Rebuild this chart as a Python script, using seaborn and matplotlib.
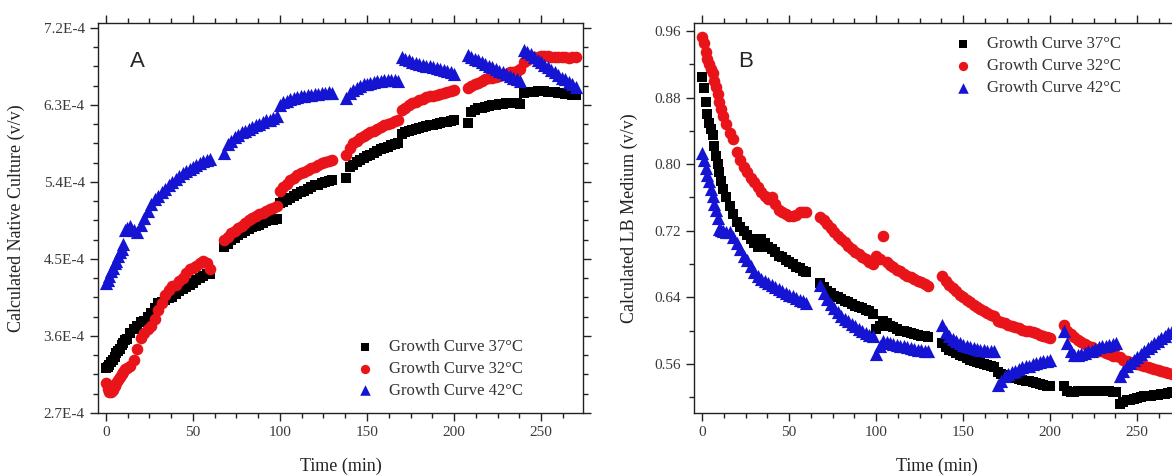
import pandas as pd
import seaborn as sns
import matplotlib.pyplot as plt
from matplotlib.ticker import AutoMinorLocator, MultipleLocator, FuncFormatter

# sampling times (min), measured in blocks with short breaks
time_min = (list(range(0, 13)) + list(range(14, 61, 2)) + list(range(68, 99, 2))
            + list(range(100, 131, 2)) + list(range(138, 169, 2)) + list(range(170, 201, 2))
            + list(range(208, 239, 2)) + list(range(240, 271, 2)))

# panel A: calculated native culture, in units of 1E-4 (v/v)
native_37 = [3.22, 3.24, 3.26, 3.29, 3.32, 3.36, 3.40, 3.43, 3.45, 3.49, 3.52, 3.55, 3.57,
             3.63, 3.68, 3.72, 3.76, 3.78, 3.82, 3.87, 3.93, 3.98,
             4.00, 4.02, 4.04, 4.06, 4.09, 4.12, 4.15, 4.17, 4.20, 4.22, 4.25, 4.28, 4.30, 4.32, 4.33,
             4.64, 4.68, 4.72, 4.75, 4.78, 4.80, 4.83, 4.85, 4.87, 4.89, 4.90, 4.92, 4.94, 4.95, 4.96, 4.97,
             5.15, 5.17, 5.19, 5.21, 5.24, 5.26, 5.28, 5.30, 5.32, 5.34, 5.36, 5.37, 5.39, 5.40, 5.41, 5.42,
             5.45, 5.57, 5.60, 5.63, 5.66, 5.68, 5.70, 5.72, 5.74, 5.76, 5.78, 5.80, 5.81, 5.83, 5.84, 5.85,
             5.96, 5.98, 6.00, 6.01, 6.02, 6.03, 6.04, 6.05, 6.06, 6.07, 6.08, 6.09, 6.10, 6.10, 6.11, 6.12,
             6.09, 6.22, 6.24, 6.26, 6.27, 6.28, 6.29, 6.30, 6.30, 6.31, 6.31, 6.32, 6.32, 6.32, 6.32, 6.31,
             6.44, 6.45, 6.45, 6.45, 6.46, 6.46, 6.46, 6.45, 6.45, 6.45, 6.44, 6.44, 6.43, 6.43, 6.42, 6.42]
native_32 = [3.05, 2.98, 2.95, 2.94, 2.97, 3.01, 3.05, 3.09, 3.12, 3.16, 3.18, 3.21, 3.22,
             3.25, 3.32, 3.45, 3.58, 3.64, 3.68, 3.72, 3.80, 3.90,
             3.98, 4.08, 4.14, 4.18, 4.20, 4.24, 4.28, 4.34, 4.38, 4.40, 4.42, 4.45, 4.48, 4.45, 4.38,
             4.72, 4.76, 4.80, 4.83, 4.86, 4.89, 4.92, 4.95, 4.98, 5.00, 5.02, 5.04, 5.06, 5.08, 5.10, 5.12,
             5.30, 5.34, 5.38, 5.42, 5.45, 5.48, 5.50, 5.52, 5.54, 5.56, 5.58, 5.60, 5.62, 5.63, 5.65, 5.66,
             5.72, 5.80, 5.85, 5.88, 5.91, 5.94, 5.96, 5.98, 6.00, 6.02, 6.04, 6.06, 6.08, 6.09, 6.11, 6.12,
             6.24, 6.27, 6.30, 6.32, 6.34, 6.36, 6.37, 6.39, 6.40, 6.41, 6.42, 6.43, 6.44, 6.45, 6.46, 6.48,
             6.50, 6.52, 6.54, 6.56, 6.58, 6.60, 6.61, 6.62, 6.63, 6.64, 6.65, 6.66, 6.68, 6.69, 6.70, 6.72,
             6.80, 6.83, 6.85, 6.86, 6.86, 6.87, 6.87, 6.87, 6.86, 6.86, 6.86, 6.86, 6.86, 6.85, 6.86, 6.86]
native_42 = [4.22, 4.25, 4.30, 4.36, 4.40, 4.45, 4.48, 4.54, 4.58, 4.62, 4.68, 4.84, 4.86,
             4.88, 4.84, 4.82, 4.90, 4.98, 5.06, 5.14, 5.20, 5.24,
             5.28, 5.32, 5.36, 5.40, 5.44, 5.47, 5.50, 5.53, 5.55, 5.58, 5.60, 5.62, 5.64, 5.66, 5.67,
             5.74, 5.84, 5.88, 5.92, 5.95, 5.98, 6.00, 6.02, 6.04, 6.06, 6.08, 6.10, 6.12, 6.13, 6.15, 6.17,
             6.30, 6.33, 6.35, 6.37, 6.38, 6.39, 6.40, 6.41, 6.42, 6.42, 6.43, 6.43, 6.44, 6.44, 6.45, 6.44,
             6.38, 6.44, 6.47, 6.50, 6.52, 6.54, 6.55, 6.56, 6.57, 6.58, 6.58, 6.59, 6.59, 6.59, 6.59, 6.58,
             6.86, 6.84, 6.82, 6.80, 6.79, 6.78, 6.77, 6.76, 6.75, 6.74, 6.73, 6.72, 6.71, 6.70, 6.68, 6.66,
             6.88, 6.86, 6.84, 6.82, 6.80, 6.78, 6.76, 6.74, 6.72, 6.70, 6.68, 6.66, 6.64, 6.62, 6.60, 6.58,
             6.94, 6.92, 6.89, 6.86, 6.83, 6.80, 6.77, 6.74, 6.71, 6.68, 6.65, 6.62, 6.60, 6.57, 6.54, 6.51]

# panel B: calculated LB medium (v/v)
lb_37 = [0.905, 0.892, 0.875, 0.860, 0.850, 0.842, 0.835, 0.822, 0.810, 0.800, 0.790, 0.780, 0.770,
         0.760, 0.750, 0.740, 0.730, 0.725, 0.720, 0.715, 0.710, 0.705, 0.700, 0.710, 0.705, 0.700,
         0.698, 0.695, 0.690, 0.688, 0.685, 0.683, 0.680, 0.677, 0.675, 0.672, 0.670,
         0.657, 0.652, 0.648, 0.645, 0.642, 0.640, 0.638, 0.636, 0.634, 0.632, 0.630, 0.628, 0.627, 0.625, 0.623, 0.620,
         0.602, 0.606, 0.611, 0.609, 0.606, 0.604, 0.602, 0.600, 0.599, 0.598, 0.597, 0.596, 0.595, 0.594, 0.593, 0.592,
         0.585, 0.580, 0.577, 0.575, 0.573, 0.571, 0.569, 0.567, 0.565, 0.564, 0.562, 0.561, 0.560, 0.559, 0.558, 0.556,
         0.550, 0.548, 0.547, 0.546, 0.545, 0.543, 0.542, 0.541, 0.540, 0.539, 0.538, 0.537, 0.536, 0.535, 0.534, 0.533,
         0.534, 0.528, 0.526, 0.526, 0.527, 0.527, 0.527, 0.527, 0.527, 0.527, 0.527, 0.527, 0.527, 0.527, 0.526, 0.526,
         0.512, 0.514, 0.516, 0.517, 0.518, 0.519, 0.520, 0.521, 0.521, 0.522, 0.523, 0.523, 0.524, 0.524, 0.525, 0.526]
lb_32 = [0.953, 0.945, 0.935, 0.926, 0.920, 0.914, 0.910, 0.900, 0.893, 0.884, 0.875, 0.866, 0.858,
         0.848, 0.838, 0.830, 0.815, 0.805, 0.797, 0.790, 0.783, 0.778, 0.772, 0.767, 0.762, 0.758,
         0.760, 0.752, 0.745, 0.742, 0.740, 0.738, 0.738, 0.739, 0.742, 0.743, 0.742,
         0.737, 0.733, 0.728, 0.723, 0.718, 0.714, 0.710, 0.706, 0.702, 0.698, 0.695, 0.692, 0.689, 0.686, 0.683, 0.680,
         0.690, 0.686, 0.714, 0.682, 0.679, 0.676, 0.673, 0.671, 0.668, 0.666, 0.664, 0.662, 0.660, 0.658, 0.656, 0.654,
         0.666, 0.660, 0.655, 0.651, 0.647, 0.643, 0.640, 0.637, 0.634, 0.631, 0.628, 0.626, 0.623, 0.621, 0.619, 0.617,
         0.612, 0.610, 0.609, 0.607, 0.606, 0.604, 0.603, 0.601, 0.600, 0.599, 0.598, 0.597, 0.595, 0.594, 0.592, 0.591,
         0.607, 0.600, 0.596, 0.592, 0.589, 0.586, 0.584, 0.582, 0.580, 0.578, 0.576, 0.575, 0.573, 0.572, 0.570, 0.569,
         0.568, 0.565, 0.563, 0.562, 0.561, 0.560, 0.559, 0.558, 0.556, 0.555, 0.554, 0.553, 0.551, 0.550, 0.549, 0.548]
lb_42 = [0.813, 0.805, 0.795, 0.787, 0.780, 0.770, 0.762, 0.752, 0.745, 0.735, 0.722, 0.721, 0.720,
         0.719, 0.718, 0.712, 0.705, 0.698, 0.690, 0.685, 0.678, 0.670, 0.665, 0.662, 0.660, 0.657,
         0.655, 0.652, 0.650, 0.648, 0.645, 0.643, 0.641, 0.639, 0.637, 0.635, 0.633,
         0.655, 0.645, 0.638, 0.632, 0.627, 0.622, 0.618, 0.614, 0.611, 0.608, 0.605, 0.602, 0.600, 0.597, 0.595, 0.593,
         0.572, 0.582, 0.587, 0.586, 0.585, 0.584, 0.583, 0.582, 0.581, 0.580, 0.579, 0.578, 0.577, 0.577, 0.576, 0.575,
         0.607, 0.598, 0.594, 0.590, 0.587, 0.585, 0.583, 0.581, 0.580, 0.579, 0.578, 0.577, 0.577, 0.576, 0.575, 0.575,
         0.535, 0.540, 0.545, 0.548, 0.550, 0.552, 0.554, 0.556, 0.557, 0.558, 0.560, 0.561, 0.562, 0.563, 0.564, 0.565,
         0.600, 0.585, 0.575, 0.571, 0.571, 0.572, 0.573, 0.575, 0.576, 0.578, 0.580, 0.581, 0.582, 0.583, 0.584, 0.585,
         0.546, 0.552, 0.557, 0.561, 0.565, 0.568, 0.572, 0.575, 0.579, 0.582, 0.585, 0.588, 0.591, 0.594, 0.597, 0.600]

labels = ["Growth Curve 37°C", "Growth Curve 32°C", "Growth Curve 42°C"]
colors = ["#000000", "#e8141a", "#1414d2"]
markers = ["s", "o", "^"]
sizes = [62, 70, 90]

sns.set_style("ticks")
plt.rcParams["font.family"] = ["Liberation Serif", "DejaVu Serif"]
plt.rcParams["axes.linewidth"] = 1.0

fig = plt.figure(figsize=(11.72, 4.76), dpi=100)
axA = fig.add_axes([0.0836, 0.1324, 0.4138, 0.8193])
axB = fig.add_axes([0.5922, 0.1324, 0.4138, 0.8193])


def draw(ax, series):
    for vals, lab, col, mk, sz in zip(series, labels, colors, markers, sizes):
        df = pd.DataFrame({"time": time_min, "value": vals})
        sns.scatterplot(data=df, x="time", y="value", ax=ax, color=col, marker=mk,
                        s=sz, linewidth=0, label=lab, legend=False)
    ax.set_xlim(-4.6, 274.1)
    ax.xaxis.set_major_locator(MultipleLocator(50))
    ax.xaxis.set_minor_locator(AutoMinorLocator(4))
    ax.tick_params(which="both", direction="out", top=True, right=True,
                   labeltop=False, labelright=False, width=1.0,
                   labelsize=11, labelcolor="#3a3a3a", colors="#222222")
    ax.tick_params(which="major", length=6)
    ax.tick_params(which="minor", length=3.5)
    for s in ax.spines.values():
        s.set_visible(True)
        s.set_color("#222222")
    ax.set_xlabel("Time (min)", fontsize=13, color="#222222")
    ax.xaxis.set_label_coords(0.5, -0.115)


draw(axA, [[v * 1e-4 for v in native_37], [v * 1e-4 for v in native_32],
           [v * 1e-4 for v in native_42]])
axA.set_ylim(2.7e-4, 7.258e-4)
axA.yaxis.set_major_locator(MultipleLocator(0.9e-4))
axA.yaxis.set_minor_locator(AutoMinorLocator(4))
axA.yaxis.set_major_formatter(FuncFormatter(lambda v, p: f"{v * 1e4:.1f}E-4"))
axA.set_ylabel("Calculated Native Culture (v/v)", fontsize=13, color="#222222")
axA.yaxis.set_label_coords(-0.15, 0.5)
axA.text(0.066, 0.9, "A", transform=axA.transAxes, fontsize=16,
         family="Liberation Sans", ha="left", va="center")

draw(axB, [lb_37, lb_32, lb_42])
axB.set_ylim(0.501, 0.9696)
axB.yaxis.set_major_locator(MultipleLocator(0.08))
axB.yaxis.set_minor_locator(AutoMinorLocator(2))
axB.yaxis.set_major_formatter(FuncFormatter(lambda v, p: f"{v:.2f}"))
axB.set_ylabel("Calculated LB Medium (v/v)", fontsize=13, color="#222222")
axB.yaxis.set_label_coords(-0.115, 0.5)
axB.text(0.091, 0.9, "B", transform=axB.transAxes, fontsize=16,
         family="Liberation Sans", ha="left", va="center")

leg_kw = dict(frameon=False, fontsize=12, borderpad=0, handlelength=1.0,
              handletextpad=0.9, labelspacing=0.35, labelcolor="#333333",
              markerscale=0.8)
h, l = axA.get_legend_handles_labels()
axA.legend(h, l, loc="lower left", bbox_to_anchor=(0.517, 0.015), **leg_kw)
h, l = axB.get_legend_handles_labels()
axB.legend(h, l, loc="upper left", bbox_to_anchor=(0.521, 0.987), **leg_kw)

fig.savefig("out.png", dpi=100)
